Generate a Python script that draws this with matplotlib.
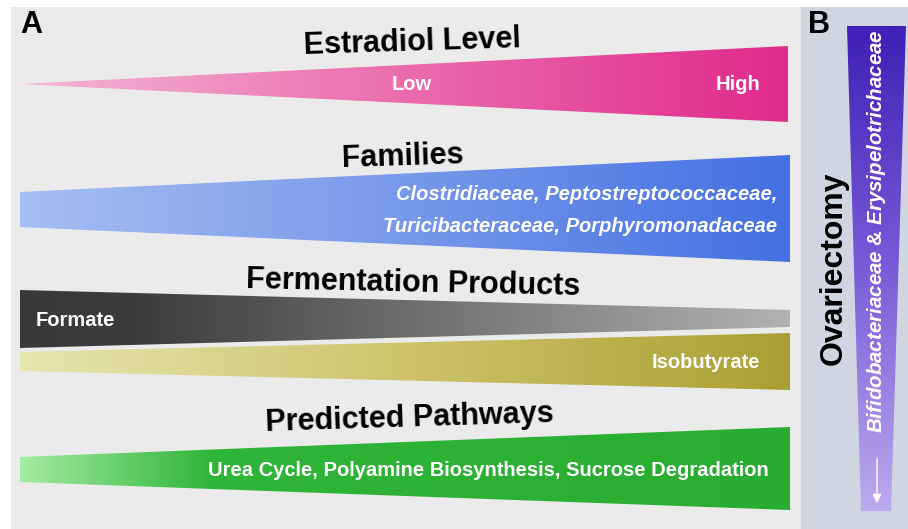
import matplotlib.pyplot as plt
import numpy as np
from matplotlib.patches import Polygon, Rectangle
from matplotlib.colors import LinearSegmentedColormap

plt.rcParams['font.family'] = ['Liberation Sans', 'DejaVu Sans']
plt.rcParams['mathtext.fontset'] = 'custom'
plt.rcParams['mathtext.it'] = 'Liberation Sans:italic:bold'
plt.rcParams['mathtext.rm'] = 'Liberation Sans:bold'

# wedge outlines in picture pixels: (x, y) points
estradiol_shape = [(20, 84), (788, 46), (788, 122)]
families_shape = [(20, 192), (790, 155), (790, 262), (20, 227)]
formate_shape = [(20, 290), (790, 310), (790, 327), (20, 348)]
isobut_shape = [(20, 352), (790, 333), (790, 390), (20, 371)]
pathway_shape = [(20, 457), (790, 427), (790, 510), (20, 482)]
ovx_shape = [(847, 26), (906, 26), (891, 511), (861, 511)]

estradiol_cols = ['#f6b6d6', '#eb6cad', '#e02a8c']
families_cols = ['#a7bef3', '#7898ea', '#4470e2']
formate_cols = ['#383838', '#3c3c3c', '#b2b2b2']
isobut_cols = ['#e7e5b0', '#cdc46a', '#a9a033']
pathway_cols = ['#a4eba4', '#2fb538', '#29ad31']
ovx_cols = ['#3f1fb6', '#7a5bd8', '#bdaaee']

titles = ['Estradiol Level', 'Families', 'Fermentation Products', 'Predicted Pathways']
family_lines = ['Clostridiaceae, Peptostreptococcaceae,',
                'Turicibacteraceae, Porphyromonadaceae']
pathway_text = 'Urea Cycle, Polyamine Biosynthesis, Sucrose Degradation'

fig = plt.figure(figsize=(9.08, 5.29), dpi=100)
ax = fig.add_axes([0, 0, 1, 1])
ax.set_xlim(0, 908)
ax.set_ylim(529, 0)
ax.axis('off')

ax.add_patch(Rectangle((11, 7), 790, 522, color='#ebebeb', lw=0))
ax.add_patch(Rectangle((801, 7), 107, 522, color='#cfd5e1', lw=0))


def wedge(points, cols, stops=(0, 0.5, 1), vertical=False):
    poly = Polygon(points, closed=True, facecolor='none', edgecolor='none')
    ax.add_patch(poly)
    xs = [p[0] for p in points]
    ys = [p[1] for p in points]
    cmap = LinearSegmentedColormap.from_list('g', list(zip(stops, cols)))
    g = np.linspace(0, 1, 256)
    arr = g[:, None] if vertical else g[None, :]
    im = ax.imshow(arr, cmap=cmap, aspect='auto', origin='upper',
                   extent=(min(xs), max(xs), max(ys), min(ys)), zorder=2)
    im.set_clip_path(poly)


wedge(estradiol_shape, estradiol_cols)
wedge(families_shape, families_cols)
wedge(formate_shape, formate_cols, stops=(0, 0.15, 1))
wedge(isobut_shape, isobut_cols)
wedge(pathway_shape, pathway_cols, stops=(0, 0.25, 1))
wedge(ovx_shape, ovx_cols, vertical=True)

tkw = dict(fontsize=22, fontweight='bold', ha='center', va='center', color='black', zorder=5)
ax.text(412, 43, titles[0], rotation=1.8, **tkw)
ax.text(403, 157, titles[1], rotation=1.8, **tkw)
ax.text(413, 284, titles[2], rotation=-1.2, **tkw)
ax.text(410, 418, titles[3], rotation=1.8, **tkw)

wkw = dict(fontsize=14.5, fontweight='bold', color='white', va='center', zorder=5)
ax.text(412, 85, 'Low', ha='center', **wkw)
ax.text(738, 85, 'High', ha='center', **wkw)
ax.text(777, 195, family_lines[0], ha='right', style='italic', **wkw)
ax.text(777, 227, family_lines[1], ha='right', style='italic', **wkw)
ax.text(36, 321, 'Formate', ha='left', **wkw)
ax.text(760, 362, 'Isobutyrate', ha='right', **wkw)
ax.text(488, 470, pathway_text, ha='center', **wkw)

ax.text(20, 25, 'A', fontsize=22, fontweight='bold', va='center', ha='left', zorder=5)
ax.text(808, 25, 'B', fontsize=22, fontweight='bold', va='center', ha='left', zorder=5)

ax.text(834, 268, 'Ovariectomy', rotation=90, fontsize=23, fontweight='bold',
        ha='center', va='center', zorder=5)
ax.text(877, 231, r'$\mathit{Bifidobacteriaceae}$ & $\mathit{Erysipelotrichaceae}$',
        rotation=90, fontsize=14.8, fontweight='bold', color='white',
        ha='center', va='center', zorder=5)
ax.annotate('', xy=(877, 506), xytext=(877, 456),
            arrowprops=dict(arrowstyle='-|>', color='white', lw=1, mutation_scale=13), zorder=5)

fig.savefig('out.png', dpi=100)
